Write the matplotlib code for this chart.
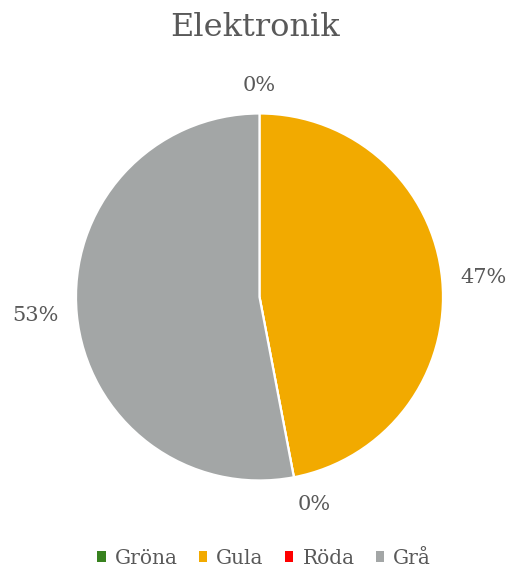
import numpy as np
import matplotlib
matplotlib.use("Agg")
import matplotlib.pyplot as plt
from matplotlib.patches import Patch

plt.rcParams["font.family"] = ["DejaVu Serif"]

title = "Elektronik"
labels = ["Gröna", "Gula", "Röda", "Grå"]
values = [0, 47, 0, 53]
colors = ["#38821F", "#F2AA00", "#FF0000", "#A3A6A6"]
txt = "#595959"

fig = plt.figure(figsize=(5.10, 5.72), dpi=100)
ax = fig.add_axes([0.149, 0.16, 0.7196, 0.6416])
wedges, _ = ax.pie(values, colors=colors, startangle=90, counterclock=False,
                   wedgeprops=dict(edgecolor="white", linewidth=1.6), radius=1)
ax.set_xlim(-1, 1); ax.set_ylim(-1, 1)
ax.set_aspect("auto")

total = sum(values)
for w, v in zip(wedges, values):
    mid = np.deg2rad((w.theta1 + w.theta2) / 2)
    c, s = np.cos(mid), np.sin(mid)
    x, y = 1.10 * c, 1.10 * s
    ha = "left" if c > 0.1 else ("right" if c < -0.1 else "center")
    va = "bottom" if s > 0.5 else ("top" if s < -0.5 else "center")
    ax.text(x, y, f"{v / total * 100:.0f}%", ha=ha, va=va,
            fontsize=15, color=txt, clip_on=False)

fig.text(0.5, 0.952, title, ha="center", va="center", fontsize=23, color=txt)

handles = [Patch(facecolor=c, edgecolor="none") for c in colors]
leg = fig.legend(handles, labels, loc="lower center", bbox_to_anchor=(0.518, -0.024),
                 ncol=4, frameon=False, fontsize=14.5, handlelength=0.42, handleheight=0.42,
                 handletextpad=0.45, columnspacing=1.05, labelcolor=txt)

fig.savefig("out.png", dpi=100)
print("saved out.png")
